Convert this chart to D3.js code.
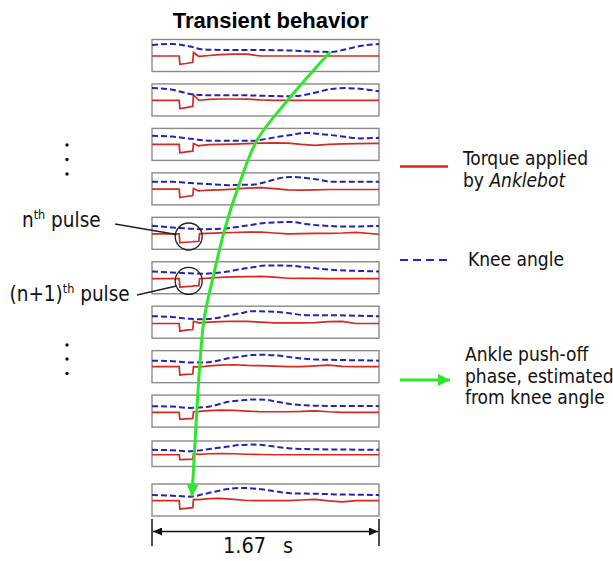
<!DOCTYPE html>
<html>
<head>
    <meta charset="utf-8">
    <title>Transient behavior</title>
    <script type="text/javascript" src="https://d3js.org/d3.v7.min.js"></script>
    <style>
        body { margin: 0; background: #fff; }
        .lbl { font-family: "DejaVu Sans Condensed", "DejaVu Sans", sans-serif; font-size: 19px; fill: #111; }
    </style>
</head>
<body>
<div id="chart"></div>
<script type="text/javascript">
    // knee angle (normalised) sampled on a shared time grid, one row per stride
    var kneeTimes = [0, 0.15, 0.28, 0.38, 0.46, 0.56, 0.65, 0.74, 0.83, 0.93, 1.02, 1.13, 1.22, 1.32, 1.42, 1.53, 1.67];
    var kneeAngle = [
        [0.66, 0.72, 0.56, 0.37, 0.36, 0.34, 0.34, 0.34, 0.34, 0.33, 0.31, 0.27, 0.24, 0.22, 0.375, 0.59, 0.72],
        [0.75, 0.64, 0.375, 0.30, 0.29, 0.29, 0.29, 0.28, 0.26, 0.24, 0.23, 0.325, 0.5, 0.69, 0.74, 0.70, 0.54],
        [0.54, 0.49, 0.36, 0.26, 0.225, 0.225, 0.225, 0.225, 0.33, 0.48, 0.59, 0.72, 0.66, 0.58, 0.475, 0.375, 0.41],
        [0.44, 0.44, 0.36, 0.31, 0.275, 0.23, 0.25, 0.26, 0.41, 0.65, 0.74, 0.68, 0.58, 0.44, 0.44, 0.44, 0.44],
        [0.47, 0.36, 0.29, 0.25, 0.27, 0.32, 0.425, 0.54, 0.65, 0.69, 0.71, 0.58, 0.5, 0.45, 0.42, 0.43, 0.46],
        [0.39, 0.325, 0.275, 0.25, 0.29, 0.39, 0.54, 0.65, 0.76, 0.76, 0.75, 0.65, 0.575, 0.5, 0.45, 0.425, 0.39],
        [0.375, 0.325, 0.21, 0.18, 0.24, 0.42, 0.56, 0.69, 0.67, 0.64, 0.55, 0.44, 0.44, 0.44, 0.42, 0.40, 0.375],
        [0.375, 0.34, 0.26, 0.26, 0.34, 0.52, 0.625, 0.73, 0.74, 0.69, 0.59, 0.49, 0.44, 0.425, 0.41, 0.40, 0.375],
        [0.31, 0.28, 0.2, 0.24, 0.36, 0.58, 0.66, 0.73, 0.71, 0.57, 0.44, 0.36, 0.33, 0.325, 0.325, 0.32, 0.31],
        [0.31, 0.27, 0.19, 0.31, 0.42, 0.56, 0.69, 0.72, 0.66, 0.52, 0.42, 0.37, 0.35, 0.34, 0.33, 0.32, 0.31],
        [0.31, 0.27, 0.21, 0.37, 0.52, 0.69, 0.75, 0.725, 0.64, 0.51, 0.42, 0.40, 0.39, 0.36, 0.34, 0.33, 0.31]
    ];

    // torque applied by Anklebot (normalised), shared time grid
    var torqueTimes = [0, 0.20, 0.205, 0.25, 0.30, 0.305, 0.345, 0.35, 0.42, 0.50, 0.60, 0.70, 0.80, 0.90, 1.00, 1.10, 1.20, 1.30, 1.40, 1.50, 1.67];
    var torque = [
        [-0.03, -0.03, -0.55, -0.5, -0.42, 0.19, -0.06, -0.05, 0.0, 0.05, 0.08, 0.08, -0.03, -0.03, -0.03, -0.03, -0.03, -0.03, -0.03, -0.03, -0.03],
        [-0.025, -0.025, -0.54, -0.48, -0.40, 0.33, -0.02, -0.02, 0.04, 0.06, 0.06, 0.05, 0.0, -0.025, -0.025, -0.025, -0.025, -0.025, -0.025, -0.025, -0.025],
        [0, 0, -0.53, -0.47, -0.42, 0.06, -0.1, -0.08, -0.02, 0, 0.02, 0.05, 0.08, 0.1, 0.08, 0.0, -0.06, 0.0, 0.03, 0.05, 0.06],
        [-0.02, -0.02, -0.54, -0.48, -0.42, 0.02, -0.14, -0.12, -0.08, -0.06, -0.02, 0.04, 0.08, 0.02, -0.06, -0.08, -0.06, -0.04, -0.04, -0.04, -0.04],
        [-0.04, -0.04, -0.58, -0.56, -0.53, -0.52, -0.5, -0.02, 0.0, 0.03, 0.05, 0.07, 0.08, 0.02, -0.03, -0.02, 0.0, 0.0, 0.02, 0.06, -0.06],
        [-0.06, -0.06, -0.58, -0.55, -0.52, -0.51, -0.5, -0.06, -0.02, 0.02, 0.05, 0.07, 0.08, 0.04, -0.03, -0.04, -0.04, -0.05, -0.05, -0.06, -0.06],
        [-0.08, -0.08, -0.56, -0.5, -0.46, 0.06, -0.04, -0.04, 0.0, 0.03, 0.06, 0.05, 0.0, -0.04, -0.04, -0.04, -0.03, 0.03, 0.05, -0.08, -0.08],
        [0, 0, -0.52, -0.48, -0.46, 0.0, -0.02, -0.02, 0.05, 0.1, 0.12, 0.08, 0.06, 0.03, 0.0, 0.0, 0.05, 0.1, 0.02, 0.0, 0.0],
        [-0.08, -0.08, -0.52, -0.48, -0.46, -0.04, -0.04, -0.02, 0.03, 0.06, 0.04, 0.0, -0.04, -0.04, -0.04, -0.02, 0.02, -0.04, -0.08, -0.08, -0.08],
        [-0.08, -0.08, -0.46, -0.44, -0.42, -0.02, -0.05, -0.05, 0.0, 0.02, 0.0, -0.04, -0.06, -0.08, -0.08, -0.08, -0.08, -0.08, -0.08, -0.08, -0.08],
        [-0.04, -0.04, -0.56, -0.52, -0.48, 0.04, 0.02, 0.02, 0.08, 0.1, 0.04, -0.03, -0.04, -0.04, -0.04, 0.0, 0.04, -0.06, -0.12, -0.04, -0.04]
    ];

    // ankle push-off phase estimated from knee angle (s), per stride
    var pushOffTimes = [1.31, 1.023, 0.773, 0.64, 0.537, 0.456, 0.383, 0.353, 0.331, 0.313, 0.294];

    var strideDuration = 1.67;
    var titleText = "Transient behavior";
    var legendTorque = ["Torque applied", "by "];
    var legendKnee = "Knee angle";
    var legendPushOff = ["Ankle push-off", "phase, estimated", "from knee angle"];

    var w = 613;
    var h = 561;
    var left = 152, right = 379;
    var firstTop = 39.5, step = 44.45;

    var svg = d3.select("#chart")
        .append("svg")
        .attr("width", w)
        .attr("height", h);

    var defs = svg.append("defs");
    defs.append("marker")
        .attr("id", "greenHead")
        .attr("markerUnits", "userSpaceOnUse")
        .attr("markerWidth", 12).attr("markerHeight", 12)
        .attr("refX", 12).attr("refY", 6)
        .attr("orient", "auto")
        .append("path").attr("d", "M0,0 L12,6 L0,12 Z").attr("fill", "#2fe62f");
    defs.append("marker")
        .attr("id", "blackHead")
        .attr("markerUnits", "userSpaceOnUse")
        .attr("markerWidth", 9).attr("markerHeight", 8)
        .attr("refX", 9).attr("refY", 4)
        .attr("orient", "auto-start-reverse")
        .append("path").attr("d", "M0,0 L9,4 L0,8 Z").attr("fill", "#111");

    var x = d3.scaleLinear().domain([0, strideDuration]).range([left, right]);

    // panel boxes (10th stride is drawn a little shorter, as in the original)
    var panels = kneeAngle.map(function (d, i) {
        var top = firstTop + i * step, ph = 32;
        if (i === 9) { top = 441; ph = 25.5; }
        return {
            i: i,
            top: top,
            h: ph,
            y: d3.scaleLinear().domain([-1, 1]).range([top + ph, top])
        };
    });

    svg.append("text")
        .attr("x", 270.5).attr("y", 28)
        .attr("text-anchor", "middle")
        .style("font-family", "'Liberation Sans', Arial, sans-serif")
        .style("font-weight", "bold")
        .style("font-size", "22px")
        .text(titleText);

    var g = svg.selectAll("g.panel")
        .data(panels)
        .enter()
        .append("g")
        .attr("class", "panel");

    g.append("rect")
        .attr("x", left).attr("y", function (d) { return d.top; })
        .attr("width", right - left).attr("height", function (d) { return d.h; })
        .attr("fill", "#fff").attr("stroke", "#8a8a8a").attr("stroke-width", 1.4);

    g.append("path")
        .attr("fill", "none").attr("stroke", "#d42a22").attr("stroke-width", 1.7)
        .attr("d", function (d) {
            return d3.line()
                .x(function (t) { return x(t); })
                .y(function (t, k) { return d.y(torque[d.i][k]); })(torqueTimes);
        });

    g.append("path")
        .attr("fill", "none").attr("stroke", "#2424b4").attr("stroke-width", 2)
        .attr("stroke-dasharray", "6,3")
        .attr("d", function (d) {
            return d3.line()
                .curve(d3.curveMonotoneX)
                .x(function (t) { return x(t); })
                .y(function (t, k) { return d.y(kneeAngle[d.i][k]); })(kneeTimes);
        });

    // push-off estimate curve, going through each stride's knee trace
    var pushPts = panels.map(function (d) {
        var knee = d3.scaleLinear().domain(kneeTimes).range(kneeAngle[d.i]);
        var t = pushOffTimes[d.i];
        return [x(t), d.y(knee(t))];
    });
    svg.append("path")
        .attr("fill", "none").attr("stroke", "#2fe62f").attr("stroke-width", 3)
        .attr("marker-end", "url(#greenHead)")
        .attr("d", d3.line().curve(d3.curveCatmullRom)(pushPts));

    // nth / (n+1)th pulse callouts
    var callouts = [
        { p: 4, pre: "n", post: " pulse", tx: 22, ty: 226.5, from: [115, 224], to: [176.5, 234.5] },
        { p: 5, pre: "(n+1)", post: " pulse", tx: 9.5, ty: 301, from: [137, 295], to: [176.5, 286] }
    ];
    callouts.forEach(function (c) {
        var pn = panels[c.p];
        svg.append("circle")
            .attr("cx", x(0.27)).attr("cy", pn.y(-0.2)).attr("r", 13.5)
            .attr("fill", "none").attr("stroke", "#222").attr("stroke-width", 1.3);
        svg.append("line")
            .attr("x1", c.from[0]).attr("y1", c.from[1])
            .attr("x2", c.to[0]).attr("y2", c.to[1])
            .attr("stroke", "#222").attr("stroke-width", 1.3);
        var t = svg.append("text").attr("class", "lbl").attr("x", c.tx).attr("y", c.ty)
            .style("font-size", "20.5px");
        t.append("tspan").text(c.pre);
        t.append("tspan").attr("dy", -8).style("font-size", "12.5px").text("th");
        t.append("tspan").attr("dy", 8).text(c.post);
    });

    // vertical ellipses
    [145, 159.5, 174, 345, 359, 373.5].forEach(function (cy) {
        svg.append("circle").attr("cx", 67).attr("cy", cy).attr("r", 1.7).attr("fill", "#111");
    });

    // duration bar
    svg.append("line").attr("x1", x(0)).attr("x2", x(0)).attr("y1", 519).attr("y2", 546)
        .attr("stroke", "#111").attr("stroke-width", 1.5);
    svg.append("line").attr("x1", x(strideDuration)).attr("x2", x(strideDuration)).attr("y1", 519).attr("y2", 546)
        .attr("stroke", "#111").attr("stroke-width", 1.5);
    svg.append("line").attr("x1", x(0) + 1).attr("x2", x(strideDuration) - 1).attr("y1", 531.5).attr("y2", 531.5)
        .attr("stroke", "#111").attr("stroke-width", 1.3)
        .attr("marker-start", "url(#blackHead)").attr("marker-end", "url(#blackHead)");
    var dur = svg.append("text").attr("class", "lbl").attr("y", 553).style("font-size", "21.5px");
    dur.append("tspan").attr("x", 223).text(String(strideDuration));
    dur.append("tspan").attr("x", 283).text("s");

    // legend
    svg.append("line").attr("x1", 400).attr("x2", 448).attr("y1", 166.5).attr("y2", 166.5)
        .attr("stroke", "#d42a22").attr("stroke-width", 2.5);
    var lt = svg.append("text").attr("class", "lbl");
    lt.append("tspan").attr("x", 463).attr("y", 165).text(legendTorque[0]);
    lt.append("tspan").attr("x", 463).attr("y", 186.5).text(legendTorque[1]);
    lt.append("tspan").style("font-style", "italic").text("Anklebot");

    svg.append("line").attr("x1", 400).attr("x2", 448).attr("y1", 260).attr("y2", 260)
        .attr("stroke", "#2424d0").attr("stroke-width", 2).attr("stroke-dasharray", "8,5");
    svg.append("text").attr("class", "lbl").attr("x", 468).attr("y", 265.5).text(legendKnee);

    svg.append("line").attr("x1", 400).attr("x2", 450).attr("y1", 380).attr("y2", 380)
        .attr("stroke", "#2fe62f").attr("stroke-width", 3).attr("marker-end", "url(#greenHead)");
    svg.append("text").attr("class", "lbl")
        .selectAll("tspan")
        .data(legendPushOff)
        .enter()
        .append("tspan")
        .attr("x", 465)
        .attr("y", function (d, i) { return 361 + i * 21.5; })
        .text(function (d) { return d; });
</script>
</body>
</html>
